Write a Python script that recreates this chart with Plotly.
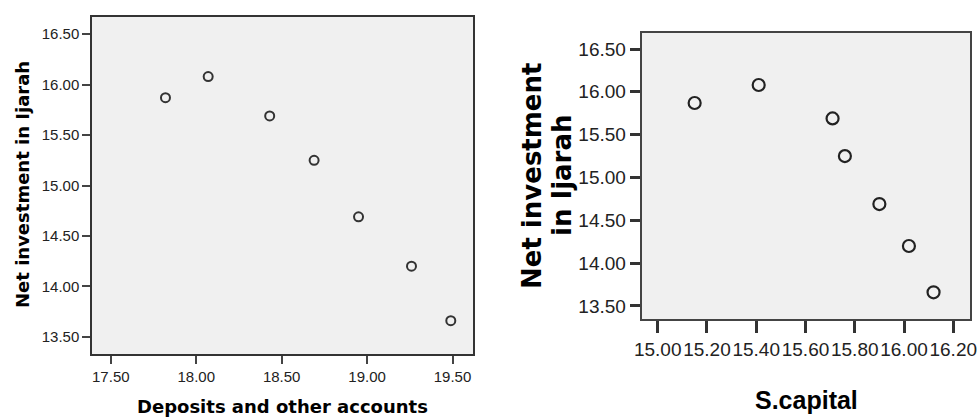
import plotly.graph_objects as go

# ---- data ----
deposits = [17.82, 18.07, 18.43, 18.69, 18.95, 19.26, 19.49]
s_capital = [15.15, 15.41, 15.71, 15.76, 15.90, 16.02, 16.12]
ijarah = [15.87, 16.08, 15.69, 15.25, 14.69, 14.20, 13.66]

y_ticks = [13.5, 14.0, 14.5, 15.0, 15.5, 16.0, 16.5]
x_ticks_left = [17.5, 18.0, 18.5, 19.0, 19.5]
x_ticks_right = [15.0, 15.2, 15.4, 15.6, 15.8, 16.0, 16.2]

W, H = 978, 417


def px(x):
    return x / W


def py(y):
    return (H - y) / H


fig = go.Figure()

fig.add_trace(go.Scatter(
    x=deposits, y=ijarah, mode="markers", xaxis="x", yaxis="y",
    marker=dict(symbol="circle-open", size=9, color="#333333",
                line=dict(width=2, color="#333333")),
    showlegend=False, hoverinfo="x+y"))

fig.add_trace(go.Scatter(
    x=s_capital, y=ijarah, mode="markers", xaxis="x2", yaxis="y2",
    marker=dict(symbol="circle-open", size=12, color="#222222",
                line=dict(width=2.2, color="#222222")),
    showlegend=False, hoverinfo="x+y"))

tick_font_l = dict(family="Liberation Sans, Arial", size=15, color="#222222")
tick_font_r = dict(family="Liberation Sans, Arial", size=19, color="#222222")

common = dict(showgrid=False, zeroline=False, automargin=False,
              tickformat=".2f", ticks="outside", showline=True, mirror=True,
              tickangle=0)

fig.update_layout(
    width=W, height=H,
    margin=dict(l=0, r=0, t=0, b=0),
    paper_bgcolor="white",
    plot_bgcolor="#f0f0f0",
    xaxis=dict(domain=[px(92), px(473)], range=[17.39, 19.62],
               tickvals=x_ticks_left, ticklen=8, tickwidth=2,
               tickcolor="#444444", linecolor="#333333", linewidth=1.5,
               tickfont=tick_font_l, anchor="y", **common),
    yaxis=dict(domain=[py(354), py(17)], range=[13.33, 16.67],
               tickvals=y_ticks, ticklen=8, tickwidth=2,
               tickcolor="#444444", linecolor="#333333", linewidth=1.5,
               tickfont=tick_font_l, anchor="x", **common),
    xaxis2=dict(domain=[px(641.7), px(970)], range=[14.935, 16.268],
                tickvals=x_ticks_right, ticklen=12, tickwidth=2.5,
                tickcolor="#333333", linecolor="#444444", linewidth=2,
                tickfont=tick_font_r, anchor="y2", **common),
    yaxis2=dict(domain=[py(319), py(33)], range=[13.348, 16.687],
                tickvals=y_ticks, ticklen=10, tickwidth=2.5,
                tickcolor="#333333", linecolor="#444444", linewidth=2,
                tickfont=tick_font_r, anchor="x2", **common),
)

title_font_l = dict(family="DejaVu Sans", size=18, color="#000000")
title_font_r = dict(family="DejaVu Sans", size=26, color="#000000")

annotations = [
    dict(text="<b>Net investment in Ijarah</b>", x=px(22), y=py(185),
         textangle=-90, font=title_font_l),
    dict(text="<b>Deposits and other accounts</b>", x=px(282), y=py(406),
         font=title_font_l),
    dict(text="<b>Net investment</b>", x=px(532), y=py(176),
         textangle=-90, font=title_font_r),
    dict(text="<b>in Ijarah</b>", x=px(562), y=py(176),
         textangle=-90, font=title_font_r),
    dict(text="<b>S.capital</b>", x=px(806), y=py(400),
         font=dict(family="Liberation Sans, Arial", size=25, color="#000000")),
]
for a in annotations:
    a.update(xref="paper", yref="paper", showarrow=False,
             xanchor="center", yanchor="middle")
fig.update_layout(annotations=annotations)

fig.write_html(
    "out.html",
    config={"displayModeBar": False},
    post_script="document.body.style.margin='0';document.body.style.overflow='hidden';",
)
